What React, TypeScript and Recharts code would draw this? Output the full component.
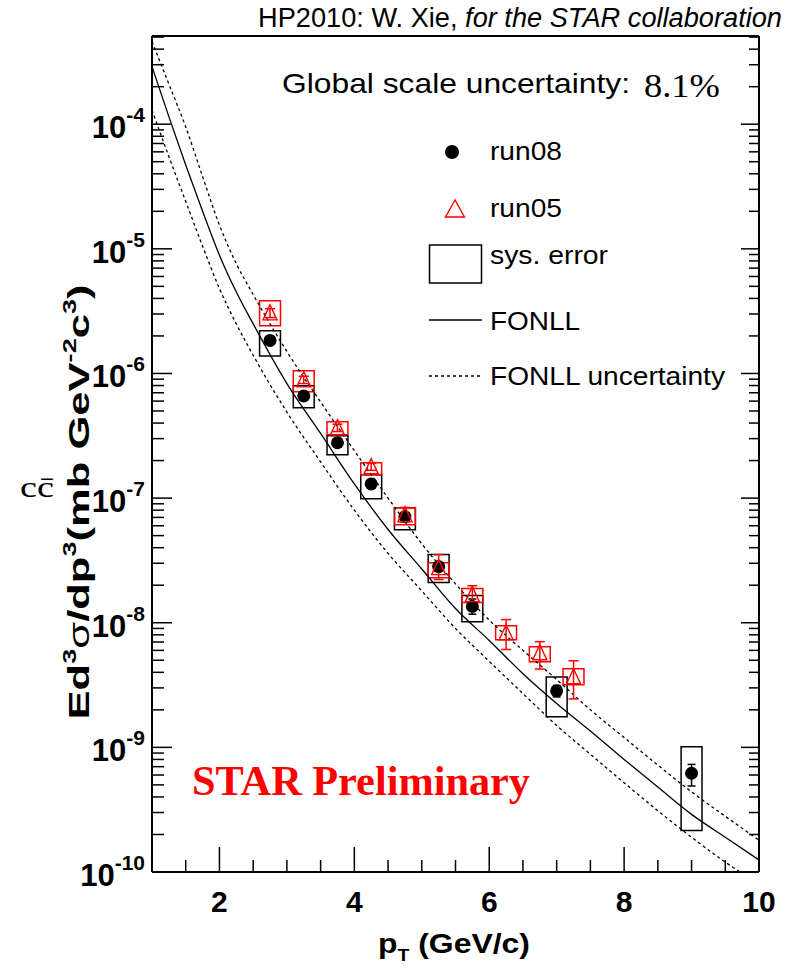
import React from "react";
import { ComposedChart, Line, Scatter, ErrorBar, XAxis, YAxis, ReferenceArea } from "recharts";

// FONLL curves
const fonllPt = [1, 1.25, 1.5, 1.75, 2, 2.25, 2.5, 3, 3.5, 4, 4.5, 5, 5.5, 6, 6.5, 7, 7.5, 8, 8.5, 9, 9.5, 10];
const fonllCentral = [2.9e-4, 1.15e-4, 4.7e-5, 2.0e-5, 8.9e-6, 4.5e-6, 2.5e-6, 8.3e-7, 3.3e-7, 1.3e-7, 5.6e-8, 2.7e-8, 1.3e-8, 7.2e-9, 3.9e-9, 2.25e-9, 1.35e-9, 8.0e-10, 4.8e-10, 2.9e-10, 1.9e-10, 1.25e-10];
const fonllUpper = [4.6e-4, 2.1e-4, 9.5e-5, 3.8e-5, 1.55e-5, 7.6e-6, 4.3e-6, 1.5e-6, 5.9e-7, 2.4e-7, 1.0e-7, 4.3e-8, 2.05e-8, 1.05e-8, 6.0e-9, 3.5e-9, 2.0e-9, 1.2e-9, 7.2e-10, 4.4e-10, 2.8e-10, 1.8e-10];
const fonllLower = [1.3e-4, 5.5e-5, 2.4e-5, 1.05e-5, 4.8e-6, 2.5e-6, 1.4e-6, 4.9e-7, 1.95e-7, 8.0e-8, 3.6e-8, 1.8e-8, 9.0e-9, 4.9e-9, 2.7e-9, 1.5e-9, 8.8e-10, 5.2e-10, 3.1e-10, 1.9e-10, 1.2e-10, 8e-11];

// run08 (black dots)
const run08Pt = [2.75, 3.25, 3.75, 4.25, 4.75, 5.25, 5.75, 7.0, 9.0];
const run08Val = [1.84e-6, 6.6e-7, 2.78e-7, 1.3e-7, 7.1e-8, 2.82e-8, 1.35e-8, 2.84e-9, 6.2e-10];
const run08StatLo = [1e-7, 4e-8, 1.5e-8, 8e-9, 4.5e-9, 2e-9, 1.8e-9, 3e-10, 1.3e-10];
const run08StatHi = [1e-7, 4e-8, 1.5e-8, 8e-9, 4.5e-9, 2e-9, 2.0e-9, 3e-10, 1.1e-10];
const run08SysLo = [1.38e-6, 5.31e-7, 2.23e-7, 9.89e-8, 5.58e-8, 2.1e-8, 1.02e-8, 1.76e-9, 2.15e-10];
const run08SysHi = [2.2e-6, 7.96e-7, 3.16e-7, 1.54e-7, 8.38e-8, 3.52e-8, 1.65e-8, 3.67e-9, 1.01e-9];

// run05 (red triangles)
const run05Pt = [2.75, 3.25, 3.75, 4.25, 4.75, 5.25, 5.75, 6.25, 6.75, 7.25];
const run05Val = [3.06e-6, 8.9e-7, 3.67e-7, 1.79e-7, 7.36e-8, 2.77e-8, 1.68e-8, 8.3e-9, 5.75e-9, 3.69e-9];
const run05StatLo = [2.5e-7, 6e-8, 2.5e-8, 1.2e-8, 9e-9, 5.5e-9, 3.5e-9, 2.2e-9, 1.5e-9, 1.24e-9];
const run05StatHi = [2.5e-7, 6e-8, 2.5e-8, 1.2e-8, 1.05e-8, 7.5e-9, 3.0e-9, 2.3e-9, 1.3e-9, 1.26e-9];
const run05SysLo = [2.41e-6, 7.13e-7, 3.22e-7, 1.54e-7, 6.12e-8, 2.3e-8, 1.45e-8, 7.31e-9, 4.87e-9, 3.18e-9];
const run05SysHi = [3.83e-6, 1.05e-6, 4.1e-7, 1.92e-7, 8.38e-8, 3.03e-8, 1.88e-8, 9.46e-9, 6.43e-9, 4.27e-9];

const xTicks = [1.5, 2, 2.5, 3, 3.5, 4, 4.5, 5, 5.5, 6, 6.5, 7, 7.5, 8, 8.5, 9, 9.5, 10];
const xLabels = [2, 4, 6, 8, 10];
const yDecades = [-10, -9, -8, -7, -6, -5, -4];
const yMin = 1e-10;
const yMax = 5.1e-4;
const yTicks = yDecades
  .flatMap((e) => [1, 2, 3, 4, 5, 6, 7, 8, 9].map((k) => k * Math.pow(10, e)))
  .filter((v) => v <= yMax);

const SANS = "'Liberation Sans', Arial, Helvetica, sans-serif";
const SERIF = "'Liberation Serif', 'Times New Roman', serif";
const BOX_HALF = 0.155;

const toXY = (xs: number[], ys: number[]) => xs.map((x, i) => ({ x, y: ys[i] }));
const centralData = toXY(fonllPt, fonllCentral);
const upperData = toXY(fonllPt, fonllUpper);
const lowerData = toXY(fonllPt, fonllLower);
const run08Data = run08Pt.map((x, i) => ({ x, y: run08Val[i], err: [run08StatLo[i], run08StatHi[i]] }));
const run05Data = run05Pt.map((x, i) => ({ x, y: run05Val[i], err: [run05StatLo[i], run05StatHi[i]] }));

function decadeOf(v: number) {
  const e = Math.floor(Math.log10(v) + 1e-9);
  const k = Math.round(v / Math.pow(10, e));
  return { e, k };
}

const BottomTick = (props: any) => {
  const { x, y, payload } = props;
  const major = xLabels.includes(payload.value);
  return (
    <g>
      <line x1={x} x2={x} y1={y} y2={y - (major ? 25 : 12)} stroke="#000" strokeWidth={1.5} />
      {major && (
        <text x={x} y={y + 40} textAnchor="middle" fontFamily={SANS} fontWeight="bold" fontSize={30} fill="#000">
          {payload.value}
        </text>
      )}
    </g>
  );
};

const TopTick = (props: any) => {
  const { x, y, payload } = props;
  const major = xLabels.includes(payload.value);
  return <line x1={x} x2={x} y1={y} y2={y + (major ? 22 : 11)} stroke="#000" strokeWidth={1.5} />;
};

const LeftTick = (props: any) => {
  const { x, y, payload } = props;
  const { e, k } = decadeOf(payload.value);
  const major = k === 1;
  return (
    <g>
      <line x1={x} x2={x + (major ? 20 : 12)} y1={y} y2={y} stroke="#000" strokeWidth={1.5} />
      {major && (
        <text x={x - 7} y={y + 14} textAnchor="end" fontFamily={SANS} fontWeight="bold" fill="#000">
          <tspan fontSize={31}>10</tspan>
          <tspan fontSize={21} dy={-16}>{e}</tspan>
        </text>
      )}
    </g>
  );
};

const RightTick = (props: any) => {
  const { x, y, payload } = props;
  const { k } = decadeOf(payload.value);
  return <line x1={x} x2={x - (k === 1 ? 18 : 10)} y1={y} y2={y} stroke="#000" strokeWidth={1.5} />;
};

const Dot = (p: any) => <circle cx={p.cx} cy={p.cy} r={6.5} fill="#000" />;
const Tri = (p: any) => (
  <polygon
    points={`${p.cx},${p.cy - 8} ${p.cx - 7},${p.cy + 7} ${p.cx + 7},${p.cy + 7}`}
    fill="none"
    stroke="#ff0000"
    strokeWidth={1.4}
  />
);

export default function App() {
  return (
    <div style={{ position: "absolute", left: 0, top: 0, width: 789, height: 969, background: "#fff" }}>
      <ComposedChart width={789} height={969} margin={{ top: 26, right: 20, bottom: 37, left: 52 }}>
        <XAxis
          dataKey="x"
          type="number"
          domain={[1, 10]}
          allowDataOverflow
          ticks={xTicks}
          interval={0}
          tickSize={0}
          tickMargin={0}
          tick={<BottomTick />}
          height={60}
          axisLine={{ stroke: "#000", strokeWidth: 2 }}
          tickLine={false}
        />
        <XAxis
          xAxisId="top"
          orientation="top"
          type="number"
          domain={[1, 10]}
          allowDataOverflow
          ticks={xTicks}
          interval={0}
          tickSize={0}
          tickMargin={0}
          tick={<TopTick />}
          height={10}
          axisLine={{ stroke: "#000", strokeWidth: 2 }}
          tickLine={false}
        />
        <YAxis
          dataKey="y"
          type="number"
          scale="log"
          domain={[yMin, yMax]}
          allowDataOverflow
          ticks={yTicks}
          interval={0}
          tickSize={0}
          tickMargin={0}
          tick={<LeftTick />}
          width={100}
          axisLine={{ stroke: "#000", strokeWidth: 2 }}
          tickLine={false}
        />
        <YAxis
          yAxisId="right"
          orientation="right"
          type="number"
          scale="log"
          domain={[yMin, yMax]}
          allowDataOverflow
          ticks={yTicks}
          interval={0}
          tickSize={0}
          tickMargin={0}
          tick={<RightTick />}
          width={10}
          axisLine={{ stroke: "#000", strokeWidth: 2 }}
          tickLine={false}
        />

        <Line data={upperData} dataKey="y" type="monotone" stroke="#000" strokeWidth={1.3} strokeDasharray="3 3" dot={false} activeDot={false} isAnimationActive={false} />
        <Line data={lowerData} dataKey="y" type="monotone" stroke="#000" strokeWidth={1.3} strokeDasharray="3 3" dot={false} activeDot={false} isAnimationActive={false} />
        <Line data={centralData} dataKey="y" type="monotone" stroke="#000" strokeWidth={1.3} dot={false} activeDot={false} isAnimationActive={false} />

        {run08Pt.map((x, i) => (
          <ReferenceArea key={"s08" + i} x1={x - BOX_HALF} x2={x + BOX_HALF} y1={run08SysLo[i]} y2={run08SysHi[i]} fill="none" stroke="#000" strokeWidth={1.5} ifOverflow="visible" />
        ))}
        {run05Pt.map((x, i) => (
          <ReferenceArea key={"s05" + i} x1={x - BOX_HALF} x2={x + BOX_HALF} y1={run05SysLo[i]} y2={run05SysHi[i]} fill="none" stroke="#ff0000" strokeWidth={1.5} ifOverflow="visible" />
        ))}

        <Scatter data={run08Data} dataKey="y" shape={<Dot />} isAnimationActive={false}>
          <ErrorBar dataKey="err" direction="y" width={4} stroke="#000" strokeWidth={1.5} />
        </Scatter>
        <Scatter data={run05Data} dataKey="y" shape={<Tri />} isAnimationActive={false}>
          <ErrorBar dataKey="err" direction="y" width={5} stroke="#ff0000" strokeWidth={1.5} />
        </Scatter>
      </ComposedChart>

      <svg width={789} height={969} style={{ position: "absolute", left: 0, top: 0, pointerEvents: "none" }}>
        <text x={258} y={27} fontFamily={SANS} fontSize={27} textLength={524} lengthAdjust="spacingAndGlyphs" fill="#000">
          HP2010: W. Xie, <tspan fontStyle="italic">for the STAR collaboration</tspan>
        </text>
        <text x={282} y={93} fontFamily={SANS} fontSize={28} textLength={348} lengthAdjust="spacingAndGlyphs" fill="#000">
          Global scale uncertainty:
        </text>
        <text x={644} y={97} fontFamily={SERIF} fontSize={33} textLength={76} lengthAdjust="spacingAndGlyphs" fill="#000">
          8.1%
        </text>

        {/* legend */}
        <circle cx={452} cy={152} r={7} fill="#000" />
        <text x={490} y={160} fontFamily={SANS} fontSize={25} textLength={72} lengthAdjust="spacingAndGlyphs">run08</text>
        <polygon points="455,200 445.5,217 464.5,217" fill="none" stroke="#ff0000" strokeWidth={1.4} />
        <text x={490} y={217} fontFamily={SANS} fontSize={25} textLength={72} lengthAdjust="spacingAndGlyphs">run05</text>
        <rect x={429.5} y={245} width={52} height={38} fill="none" stroke="#000" strokeWidth={1.5} />
        <text x={490} y={264} fontFamily={SANS} fontSize={25} textLength={118} lengthAdjust="spacingAndGlyphs">sys. error</text>
        <line x1={429} x2={482} y1={320} y2={320} stroke="#000" strokeWidth={1.3} />
        <text x={490} y={330} fontFamily={SANS} fontSize={25} textLength={90} lengthAdjust="spacingAndGlyphs">FONLL</text>
        <line x1={429} x2={482} y1={376} y2={376} stroke="#000" strokeWidth={1.3} strokeDasharray="3 3" />
        <text x={490} y={385} fontFamily={SANS} fontSize={25} textLength={235} lengthAdjust="spacingAndGlyphs">FONLL uncertainty</text>

        <text x={192} y={795} fontFamily={SERIF} fontWeight="bold" fontSize={42} fill="#ff0000" textLength={338} lengthAdjust="spacingAndGlyphs">
          STAR Preliminary
        </text>

        {/* axis titles */}
        <text x={378} y={953} fontFamily={SANS} fontWeight="bold" fontSize={28} textLength={152} lengthAdjust="spacingAndGlyphs">
          p<tspan fontSize={17} dy={8}>T</tspan>
          <tspan fontSize={28} dy={-8}> (GeV/c)</tspan>
        </text>
        <g transform="translate(89,502) rotate(-90)">
          <text x={0} y={0} textAnchor="middle" fontFamily={SANS} fontWeight="bold" fontSize={29} textLength={435} lengthAdjust="spacingAndGlyphs">
            Ed<tspan fontSize={18} dy={-13}>3</tspan>
            <tspan dy={13} fontWeight="normal">σ</tspan>/dp<tspan fontSize={18} dy={-13}>3</tspan>
            <tspan dy={13}>(mb GeV</tspan>
            <tspan fontSize={18} dy={-13}>-2</tspan>
            <tspan dy={13}>c</tspan>
            <tspan fontSize={18} dy={-13}>3</tspan>
            <tspan dy={13}>)</tspan>
          </text>
        </g>
        <text x={20} y={497} fontFamily={SERIF} fontSize={30} textLength={34} lengthAdjust="spacingAndGlyphs">
          cc̄
        </text>
      </svg>
    </div>
  );
}
